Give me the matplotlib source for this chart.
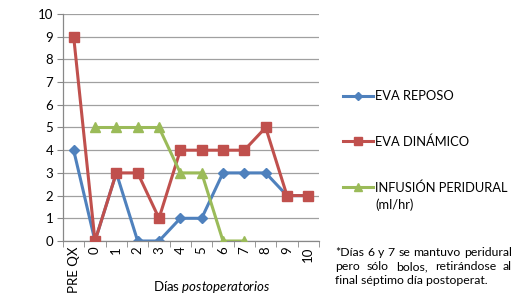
import matplotlib
matplotlib.use("Agg")
import matplotlib.pyplot as plt
from matplotlib.lines import Line2D
import numpy as np

plt.rcParams['font.family'] = ['Lato', 'DejaVu Sans']
plt.rcParams['mathtext.fontset'] = 'custom'
plt.rcParams['mathtext.rm'] = 'Lato'
plt.rcParams['mathtext.it'] = 'Lato:italic'

categories = ["PRE QX", "0", "1", "2", "3", "4", "5", "6", "7", "8", "9", "10"]
eva_reposo = [4, 0, 3, 0, 0, 1, 1, 3, 3, 3, 2, 2]
eva_dinamico = [9, 0, 3, 3, 1, 4, 4, 4, 4, 5, 2, 2]
infusion = [None, 5, 5, 5, 5, 3, 3, 0, 0, None, None, None]
labels = ["EVA REPOSO", "EVA DINÁMICO", "INFUSIÓN PERIDURAL\n(ml/hr)"]

blue = "#4F81BD"
red = "#C0504D"
green = "#9BBB59"

W, H = 516, 301
fig = plt.figure(figsize=(W/100, H/100), dpi=100)
ax = fig.add_axes([63/W, 1-241/H, (319-63)/W, (241-14)/H])

x = np.arange(len(categories))
inf = np.array([np.nan if v is None else v for v in infusion], dtype=float)

styles = [dict(color=blue, marker="D", ms=5.5, zorder=2),
          dict(color=red, marker="s", ms=7.5, zorder=3),
          dict(color=green, marker="^", ms=7.5, zorder=4)]
for ys, st in zip([eva_reposo, eva_dinamico, inf], styles):
    ax.plot(x, ys, lw=2.2, **st)

ax.set_xlim(-0.5, len(categories) - 0.5)
ax.set_ylim(0, 10)
ax.set_yticks(range(0, 11))
ax.set_xticks(x)
ax.set_xticklabels(categories, rotation=90, fontsize=9.5)
ax.set_xticks(np.arange(-0.5, len(categories), 1), minor=True)
ax.tick_params(axis='x', which='major', length=0, pad=4)
ax.tick_params(axis='x', which='minor', length=4, color="#888888", direction='out')
ax.tick_params(axis='y', length=4, color="#888888", labelsize=9.5, pad=3)
ax.grid(axis='y', color="#A0A0A0", lw=0.9)
ax.set_axisbelow(True)
for s in ["top", "right"]:
    ax.spines[s].set_visible(False)
for s in ["left", "bottom"]:
    ax.spines[s].set_color("#888888")
    ax.spines[s].set_linewidth(0.9)

fig.text(212/W, 1-287/H, r"Días $\mathit{postoperatorios}$", ha="center", va="center", fontsize=9.5)

# manual legend
leg_y = [96, 141, 187]
for yy, lab, st in zip(leg_y, labels, styles):
    fy = 1 - yy/H
    fig.add_artist(Line2D([343/W, 373/W], [fy, fy], lw=2.2, color=st["color"],
                          transform=fig.transFigure))
    fig.add_artist(Line2D([358/W], [fy], lw=0, marker=st["marker"], ms=st["ms"]*0.8,
                          color=st["color"], transform=fig.transFigure))
    fig.text(375/W, fy + 6/H, lab, ha="left", va="top", fontsize=9.3,
             linespacing=1.5, transform=fig.transFigure)

foot = ["*Días 6 y 7 se mantuvo peridural",
        "pero sólo bolos, retirándose al",
        "final séptimo día postoperat."]
fx0, fx1 = 335, 512
fs = 8.8
fig.canvas.draw()
renderer = fig.canvas.get_renderer()
for i, line in enumerate(foot):
    fy = 1 - (256.5 + i*13.5)/H
    if i == len(foot) - 1:
        fig.text(fx0/W, fy, line, ha="left", va="baseline", fontsize=fs)
        continue
    words = line.split(" ")
    ts = [fig.text(0, fy, w, ha="left", va="baseline", fontsize=fs) for w in words]
    widths = [t.get_window_extent(renderer).width for t in ts]
    gap = ((fx1 - fx0) - sum(widths)) / (len(words) - 1)
    cx = fx0
    for t, w in zip(ts, widths):
        t.set_x(cx/W)
        cx += w + gap

fig.savefig("out.png", dpi=100)
